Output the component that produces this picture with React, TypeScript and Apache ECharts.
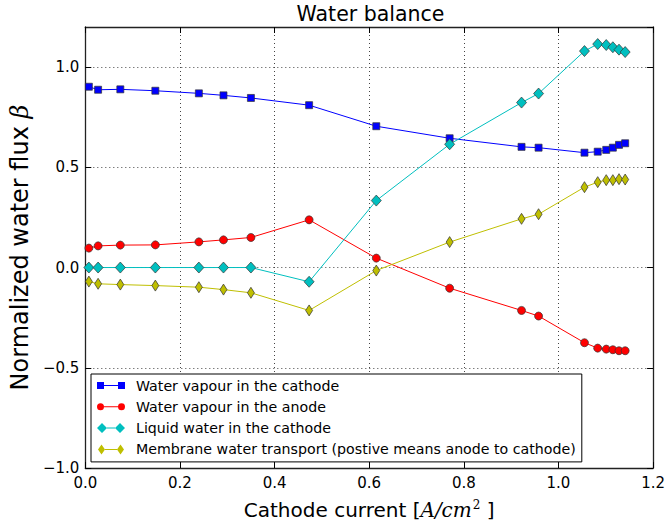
import React, { useEffect, useRef } from "react";
import * as echarts from "echarts";

// Cathode current density [A/cm^2]
const current = [
  0.0075, 0.027, 0.074, 0.148, 0.24, 0.292, 0.35, 0.473, 0.615,
  0.77, 0.922, 0.958, 1.055, 1.083, 1.101, 1.115, 1.128, 1.141,
];

// Normalized water fluxes (beta)
const vapourCathode = [
  0.902, 0.887, 0.889, 0.882, 0.869, 0.859, 0.846, 0.81, 0.705,
  0.645, 0.602, 0.598, 0.573, 0.578, 0.587, 0.598, 0.612, 0.62,
];
const vapourAnode = [
  0.097, 0.108, 0.112, 0.113, 0.128, 0.138, 0.15, 0.238, 0.047,
  -0.103, -0.214, -0.242, -0.375, -0.402, -0.407, -0.41, -0.415, -0.415,
];
const liquidCathode = [
  0.0, 0.0, 0.0, 0.0, 0.0, 0.0, 0.0, -0.071, 0.334,
  0.615, 0.823, 0.868, 1.08, 1.115, 1.11, 1.099, 1.087, 1.075,
];
const membraneTransport = [
  -0.07, -0.081, -0.085, -0.09, -0.098, -0.11, -0.126, -0.214, -0.015,
  0.127, 0.243, 0.266, 0.401, 0.426, 0.436, 0.436, 0.441, 0.439,
];

const seriesNames = [
  "Water vapour in the cathode",
  "Water vapour in the anode",
  "Liquid water in the cathode",
  "Membrane water transport (postive means anode to cathode)",
];

const xTicks = { min: 0, max: 1.2, interval: 0.2 };
const yTicks = { min: -1, max: 1.2, interval: 0.5 };

// legend glyphs: two markers joined by a short line
const iconSquares =
  "path://M0,0 L0,0 Z M0,1.5 h7 v7 h-7 Z M21,1.5 h7 v7 h-7 Z M7,4.5 h14 v1 h-14 Z M28,10 L28,10 Z";
const iconCircles =
  "path://M0,0 L0,0 Z M0,5 a3.5,3.5 0 1,0 7,0 a3.5,3.5 0 1,0 -7,0 Z M21,5 a3.5,3.5 0 1,0 7,0 a3.5,3.5 0 1,0 -7,0 Z M7,4.5 h14 v1 h-14 Z M28,10 L28,10 Z";
const iconDiamonds =
  "path://M0,5 L5,0 L10,5 L5,10 Z M18,5 L23,0 L28,5 L23,10 Z M10,4.5 h8 v1 h-8 Z";
const iconThinDiamonds =
  "path://M0,0 L0,0 Z M1,5 L4.5,0 L8,5 L4.5,10 Z M20,5 L23.5,0 L27,5 L23.5,10 Z M8,4.5 h12 v1 h-12 Z M28,10 L28,10 Z";

const pair = (ys: number[]) => current.map((x, i) => [x, ys[i]]);
const fmt = (v: number) => v.toFixed(1).replace("-", "\u2212");

export default function App() {
  const ref = useRef<HTMLDivElement>(null);

  useEffect(() => {
    if (!ref.current) return;
    const chart = echarts.init(ref.current, null, { renderer: "svg" });
    const font = "DejaVu Sans";
    const frame = { show: true, onZero: false, lineStyle: { color: "#222", width: 1.3 } };
    const ticks = { show: true, inside: true, length: 6, lineStyle: { color: "#000" } };
    const grid = { show: true, lineStyle: { color: "#444", width: 1, type: [1, 3] } };

    const mkSeries = (
      name: string,
      ys: number[],
      color: string,
      symbol: string,
      symbolSize: number | number[]
    ) => ({
      name,
      type: "line",
      data: pair(ys),
      symbol,
      symbolSize,
      lineStyle: { color, width: 1 },
      itemStyle: { color, borderColor: "#333", borderWidth: 0.7 },
      emphasis: { disabled: true },
    });

    chart.setOption({
      animation: false,
      backgroundColor: "#fff",
      textStyle: { fontFamily: font },
      title: {
        text: "Water balance",
        left: 370.5,
        textAlign: "center",
        top: 3,
        padding: 0,
        textStyle: { fontFamily: font, fontSize: 20.5, fontWeight: "normal", color: "#000" },
      },
      grid: { left: 84, right: 11, top: 27, bottom: 59 },
      legend: {
        orient: "vertical",
        left: 91,
        top: 374,
        backgroundColor: "#fff",
        borderColor: "#000",
        borderWidth: 1,
        borderRadius: 0,
        padding: [3, 6, 4, 6],
        itemWidth: 28,
        itemHeight: 10,
        itemGap: 4.3,
        itemStyle: { borderWidth: 0 },
        textStyle: { fontFamily: font, fontSize: 14.2, color: "#000", lineHeight: 17, padding: [0, 0, 0, 6] },
        data: [
          { name: seriesNames[0], icon: iconSquares },
          { name: seriesNames[1], icon: iconCircles },
          { name: seriesNames[2], icon: iconDiamonds },
          { name: seriesNames[3], icon: iconThinDiamonds },
        ],
      },
      xAxis: [
        {
          type: "value",
          ...xTicks,
          axisLine: frame,
          axisTick: ticks,
          axisLabel: { color: "#000", fontSize: 15, fontFamily: font, margin: 7, formatter: fmt },
          splitLine: grid,
          name: "{a|Cathode current [}{m|A/cm}{s|2}{a| ]}",
          nameLocation: "middle",
          nameGap: 31,
          nameTextStyle: {
            rich: {
              a: { fontFamily: font, fontSize: 20, color: "#000" },
              m: { fontFamily: "DejaVu Serif", fontStyle: "italic", fontSize: 20, color: "#000" },
              s: { fontFamily: "DejaVu Serif", fontSize: 12, color: "#000", padding: [0, 0, 10, 1] },
            },
          },
        },
        {
          type: "value",
          position: "top",
          ...xTicks,
          axisLine: frame,
          axisTick: ticks,
          axisLabel: { show: false },
          splitLine: { show: false },
        },
      ],
      yAxis: [
        {
          type: "value",
          ...yTicks,
          axisLine: frame,
          axisTick: ticks,
          axisLabel: {
            color: "#000",
            fontSize: 15,
            fontFamily: font,
            margin: 6,
            formatter: fmt,
            showMaxLabel: false,
          },
          splitLine: grid,
          name: "{a|Normalized water flux }{m|\u03b2}",
          nameLocation: "middle",
          nameGap: 47,
          nameTextStyle: {
            rich: {
              a: { fontFamily: font, fontSize: 24, color: "#000" },
              m: { fontFamily: "DejaVu Serif", fontStyle: "italic", fontSize: 24, color: "#000" },
            },
          },
        },
        {
          type: "value",
          position: "right",
          ...yTicks,
          axisLine: frame,
          axisTick: ticks,
          axisLabel: { show: false },
          splitLine: { show: false },
        },
      ],
      series: [
        mkSeries(seriesNames[0], vapourCathode, "#0000ff", "rect", 7),
        mkSeries(seriesNames[1], vapourAnode, "#ff0000", "circle", 8),
        mkSeries(seriesNames[2], liquidCathode, "#00bfbf", "diamond", [10, 11]),
        mkSeries(seriesNames[3], membraneTransport, "#bfbf00", "diamond", [7, 11]),
      ],
    });

    return () => chart.dispose();
  }, []);

  return (
    <div
      ref={ref}
      style={{ position: "fixed", left: 0, top: 0, width: 668, height: 527 }}
    />
  );
}
